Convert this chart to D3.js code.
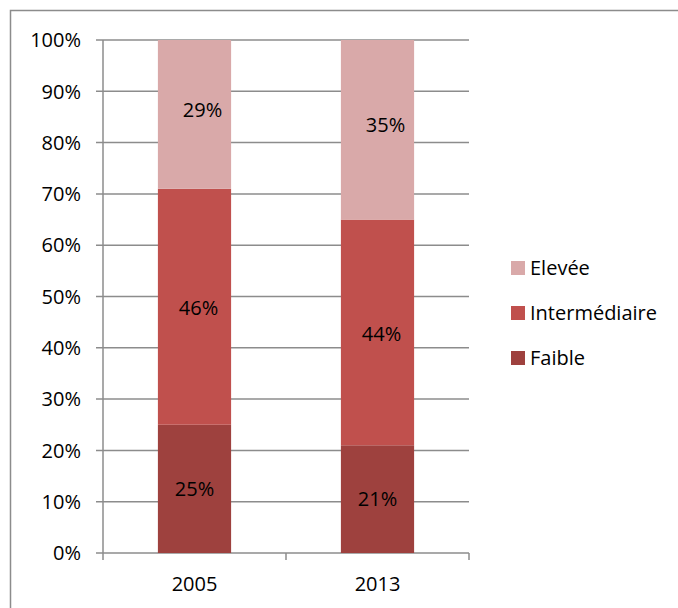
<!DOCTYPE html>
<html><head><meta charset="utf-8">
<script src="https://cdn.jsdelivr.net/npm/d3@7"></script>
<style>body{margin:0;background:#fff}svg{display:block}text{font-family:"Open Sans",sans-serif}</style>
</head><body><svg id="c" width="678" height="608"></svg>
<script>
const categories = ["2005", "2013"];
const seriesNames = ["Faible", "Intermédiaire", "Elevée"];
const faible = [25, 21];
const intermediaire = [46, 44];
const elevee = [29, 35];
const yTicks = [0,10,20,30,40,50,60,70,80,90,100];
const colors = ["#9E413E", "#C0504D", "#D9A9A9"];

(function(){
const FS = 20;
const svg = d3.select("#c");
svg.append("path").attr("d","M10.5,700 V10.5 H700").attr("fill","none").attr("stroke","#8c8c8c").attr("stroke-width",1.5);

const pL = 103, pR = 469, pT = 40, pB = 553;
const xb = d3.scaleBand().domain(categories).range([pL, pR]);
const y = d3.scaleLinear().domain([0, 100]).range([pB, pT]);

svg.append("g").selectAll("line").data(yTicks).join("line")
  .attr("x1", pL-7).attr("x2", pR).attr("y1", d=>y(d)).attr("y2", d=>y(d))
  .attr("stroke","#8c8c8c").attr("stroke-width",1.5);
svg.append("line").attr("x1",pL).attr("x2",pL).attr("y1",pT).attr("y2",pB).attr("stroke","#8c8c8c").attr("stroke-width",1.5);
svg.append("g").selectAll("text").data(yTicks).join("text")
  .attr("x", 81).attr("y", d=>y(d)).attr("dy","0.36em").attr("text-anchor","end")
  .attr("font-size",FS).attr("fill","#000").text(d=>d+"%");
const xTickPos = [pL, pL + xb.bandwidth(), pR];
svg.append("g").selectAll("line").data(xTickPos).join("line")
  .attr("x1",d=>d).attr("x2",d=>d).attr("y1",pB).attr("y2",pB+7)
  .attr("stroke","#8c8c8c").attr("stroke-width",1.5);
svg.append("g").selectAll("text").data(categories).join("text")
  .attr("x", d=>xb(d)+xb.bandwidth()/2).attr("y", 584).attr("dy","0.36em").attr("text-anchor","middle")
  .attr("font-size",FS).attr("fill","#000").text(d=>d);

const rows = categories.map((c,i)=>({cat:c, "Faible":faible[i], "Intermédiaire":intermediaire[i], "Elevée":elevee[i]}));
const stack = d3.stack().keys(seriesNames)(rows);
const bw = xb.bandwidth()*0.4;
const dyOff = [0, 1, -5];
stack.forEach((s,si)=>{
  const g = svg.append("g");
  g.selectAll("rect").data(s).join("rect")
    .attr("x", d=>xb(d.data.cat)+xb.bandwidth()/2-bw/2).attr("width", bw)
    .attr("y", d=>y(d[1])).attr("height", d=>y(d[0])-y(d[1]))
    .attr("fill", colors[si]);
  g.selectAll("text").data(s).join("text")
    .attr("x", d=>xb(d.data.cat)+xb.bandwidth()/2+ (si===2?8:si===1?4:0))
    .attr("y", d=>y((d[0]+d[1])/2)+dyOff[si]).attr("dy","0.36em").attr("text-anchor","middle")
    .attr("font-size",FS).attr("fill","#000").text(d=>(d[1]-d[0])+"%");
});

const legendItems = seriesNames.slice().reverse();
const lg = svg.append("g");
legendItems.forEach((n,i)=>{
  const cy = 268 + i*45;
  lg.append("rect").attr("x",511).attr("y",cy-7).attr("width",14).attr("height",14).attr("fill",colors[seriesNames.indexOf(n)]);
  lg.append("text").attr("x",530).attr("y",cy).attr("dy","0.36em").attr("font-size",FS).attr("fill","#000").text(n);
});
})();
</script></body></html>
